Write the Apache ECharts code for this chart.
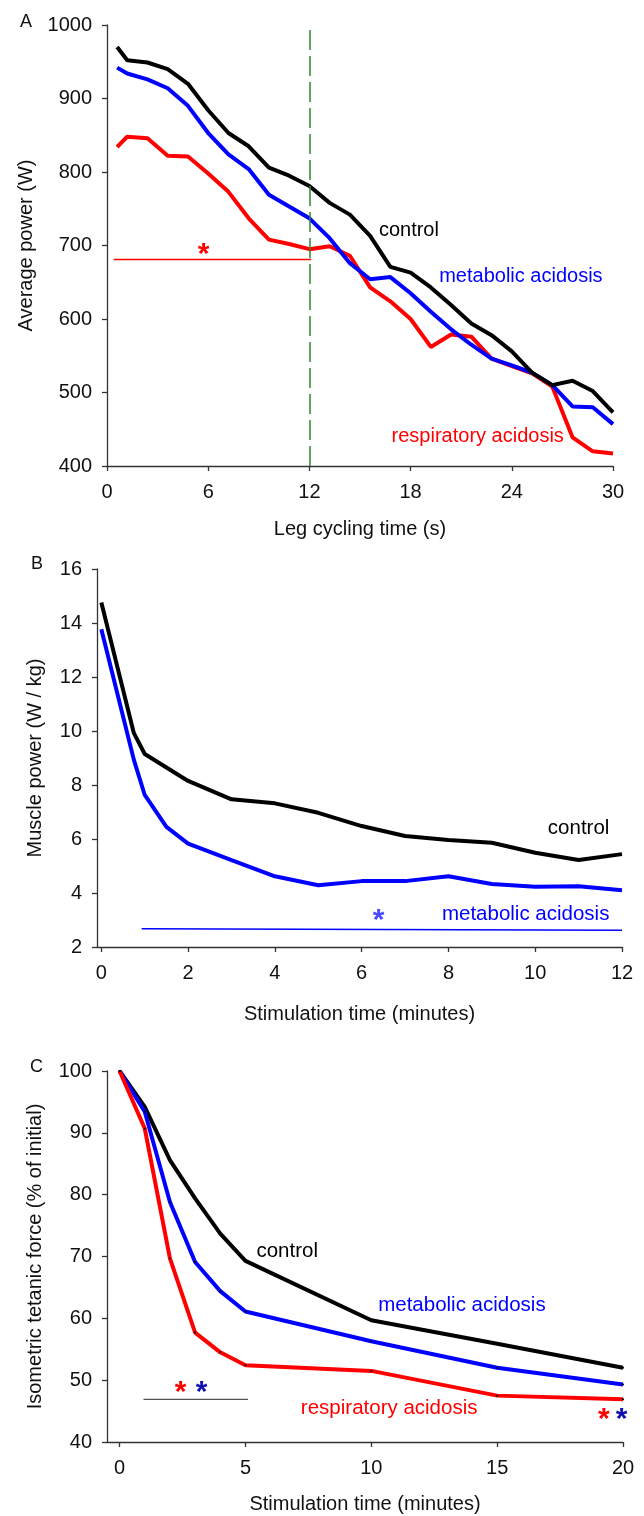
<!DOCTYPE html>
<html><head><meta charset="utf-8">
<script src="https://cdn.jsdelivr.net/npm/echarts@6/dist/echarts.min.js"></script>
<style>html,body{margin:0;padding:0;background:#fff}#c{width:644px;height:1516px}</style>
</head><body><div id="c"></div>
<script>
// ---- Panel A: leg cycling ----
const timeA = [0.6,1.2,2.4,3.6,4.8,6.0,7.2,8.4,9.6,10.8,12.0,13.2,14.4,15.6,16.8,18.0,19.2,20.4,21.6,22.8,24.0,25.2,26.4,27.6,28.8,30.0];
const controlA = [970,952,949,940,920,884,853,835,806,795,781,758,742,713,671,663,643,619,594,578,556,527,510,516,502,473];
const metabolicA = [942,934,926,914,890,853,824,804,769,753,737,710,676,654,657,635,610,586,565,546,537,527,510,481,480,457];
const respiratoryA = [834,848,846,822,821,798,773,737,708,702,695,699,686,643,624,600,562,579,576,546,536,526,508,439,420,417];
const sigLineA = [[0.4,681],[12.1,681]];
const markerA = 12;
const ticksAx = [0,6,12,18,24,30];
const ticksAy = [400,500,600,700,800,900,1000];

// ---- Panel B: muscle power ----
const timeB = [0,0.75,1,1.5,2,3,4,5,6,7,8,9,10,11,12];
const controlB = [14.76,9.92,9.15,8.65,8.15,7.47,7.32,6.97,6.48,6.11,5.96,5.86,5.49,5.22,5.44];
const metabolicB = [13.77,8.93,7.63,6.45,5.83,5.22,4.62,4.29,4.44,4.44,4.62,4.33,4.23,4.25,4.10];
const sigLineB = [[0.93,2.68],[12,2.62]];
const ticksBx = [0,2,4,6,8,10,12];
const ticksBy = [2,4,6,8,10,12,14,16];

// ---- Panel C: isometric tetanic force ----
const timeC = [0,1,2,3,4,5,10,15,20];
const controlC = [100,94.2,85.6,79.4,73.7,69.3,59.7,55.9,52.0];
const metabolicC = [100,93.4,78.8,69.1,64.4,61.1,56.3,52.0,49.3];
const respiratoryC = [100,90.7,69.7,57.7,54.5,52.4,51.5,47.5,46.9];
const sigLineC = [[0.95,46.9],[5.1,46.9]];
const ticksCx = [0,5,10,15,20];
const ticksCy = [40,50,60,70,80,90,100];

// text annotations [x, y, text, colour]
const labelsA = [[17.9,721,'control','#000'],[24.54,657.6,'metabolic acidosis','#0000ff'],[21.98,440,'respiratory acidosis','#ff0000']];
const starsA = [[5.72,696,'#ff0000']];
const labelsB = [[11.0,6.39,'control','#000'],[9.78,3.2,'metabolic acidosis','#0000ff']];
const starsB = [[6.39,3.18,'#4a4aff']];
const labelsC = [[6.66,70.9,'control','#000'],[13.6,62.1,'metabolic acidosis','#0000ff'],[10.71,45.4,'respiratory acidosis','#ff0000']];
const starsC = [[2.42,49.0,'#ff0000'],[3.26,49.0,'#1010b0'],[19.24,44.6,'#ff0000'],[19.94,44.6,'#1010b0']];

const FONT = '"Liberation Sans", Arial, Helvetica, sans-serif';
const AX = '#333';

function pairs(xs, ys){ return xs.map((x,i)=>[x, ys[i]]); }
function line(xs, ys, color, idx, dots){
  return {type:'line', xAxisIndex:idx, yAxisIndex:idx, data:pairs(xs,ys), animation:false,
    showSymbol:!!dots, symbol: dots ? 'circle':'none', symbolSize:2,
    itemStyle:{color: dots ? '#000' : color}, lineStyle:{color, width:4}, z:3};
}
function textSeries(items, idx, size){
  return {type:'scatter', xAxisIndex:idx, yAxisIndex:idx, symbolSize:0, animation:false, silent:true,
    itemStyle:{opacity:1}, emphasis:{disabled:true},
    data: items.map(d=>({value:[d[0],d[1]], label:{show:true, position:'inside', formatter:d[2],
      color:d[3], opacity:1, fontSize:size, fontFamily:FONT, align:'center', verticalAlign:'middle'}})), z:5};
}
function starSeries(items, idx){
  return {type:'scatter', xAxisIndex:idx, yAxisIndex:idx, symbolSize:0, animation:false, silent:true,
    itemStyle:{opacity:1}, emphasis:{disabled:true},
    data: items.map(d=>({value:[d[0],d[1]], label:{show:true, position:'inside', formatter:'*',
      color:d[2], opacity:1, fontSize:30, fontWeight:'bold', fontFamily:FONT, align:'center', verticalAlign:'middle', offset:[0,6]}})), z:5};
}
function thin(pts, color, idx, w){
  return {type:'line', xAxisIndex:idx, yAxisIndex:idx, data:pts, symbol:'none', animation:false,
    lineStyle:{color, width:w}, z:2};
}
const plain = v => String(v);
function xAxis(idx, min, max, ticks, name, gap){
  return {type:'value', gridIndex:idx, min, max, name, nameLocation:'middle', nameGap:gap,
    nameTextStyle:{fontSize:20, color:'#111', fontFamily:FONT},
    axisLine:{onZero:false, lineStyle:{color:AX, width:1.3}},
    axisTick:{show:true, length:5, lineStyle:{color:AX, width:1.3}, customValues:ticks},
    axisLabel:{fontSize:20, color:'#111', fontFamily:FONT, margin:16, customValues:ticks, formatter:plain},
    splitLine:{show:false}};
}
function yAxis(idx, min, max, ticks, name, gap){
  return {type:'value', gridIndex:idx, min, max, name, nameLocation:'middle', nameGap:gap,
    nameTextStyle:{fontSize:20, color:'#111', fontFamily:FONT},
    axisLine:{show:true, onZero:false, lineStyle:{color:AX, width:1.3}},
    axisTick:{show:true, length:5, lineStyle:{color:AX, width:1.3}, customValues:ticks},
    axisLabel:{fontSize:20, color:'#111', fontFamily:FONT, margin:15, customValues:ticks, formatter:plain},
    splitLine:{show:false}};
}

const chart = echarts.init(document.getElementById('c'), null, {renderer:'canvas'});
const ctrlA = line(timeA, controlA, '#000000', 0);
ctrlA.markLine = {silent:true, symbol:'none', label:{show:false}, animation:false,
  lineStyle:{color:'#2e8b2e', type:[20,6], width:1.5}, data:[{xAxis:markerA}]};

chart.setOption({
  animation:false,
  backgroundColor:'#fff',
  grid:[
    {left:107, top:25, width:506, height:441},
    {left:97, top:569, width:525, height:378},
    {left:107, top:1071, width:516, height:371}
  ],
  xAxis:[
    xAxis(0, 0, 30, ticksAx, 'Leg cycling time (s)', 53),
    xAxis(1, -0.1, 12, ticksBx, 'Stimulation time (minutes)', 57),
    xAxis(2, -0.5, 20, ticksCx, 'Stimulation time (minutes)', 52)
  ],
  yAxis:[
    yAxis(0, 400, 1000, ticksAy, 'Average power (W)', 68),
    yAxis(1, 2, 16, ticksBy, 'Muscle power (W / kg)', 52),
    yAxis(2, 40, 100, ticksCy, 'Isometric tetanic force (% of initial)', 62)
  ],
  graphic:[
    {type:'text', left:20, top:13, style:{text:'A', fontSize:18, fill:'#111', fontFamily:FONT}},
    {type:'text', left:31, top:555, style:{text:'B', fontSize:18, fill:'#111', fontFamily:FONT}},
    {type:'text', left:30, top:1058, style:{text:'C', fontSize:18, fill:'#111', fontFamily:FONT}}
  ],
  series:[
    thin(sigLineA, '#ff0000', 0, 1.5),
    line(timeA, respiratoryA, '#ff0000', 0),
    line(timeA, metabolicA, '#0000ff', 0),
    ctrlA,
    textSeries(labelsA, 0, 20),
    starSeries(starsA, 0),
    thin(sigLineB, '#0000ff', 1, 1.5),
    line(timeB, metabolicB, '#0000ff', 1),
    line(timeB, controlB, '#000000', 1),
    textSeries(labelsB, 1, 20.5),
    starSeries(starsB, 1),
    thin(sigLineC, '#555555', 2, 1.2),
    line(timeC, controlC, '#000000', 2, true),
    line(timeC, metabolicC, '#0000ff', 2, true),
    line(timeC, respiratoryC, '#ff0000', 2, true),
    textSeries(labelsC, 2, 20.5),
    starSeries(starsC, 2)
  ]
});
</script></body></html>
